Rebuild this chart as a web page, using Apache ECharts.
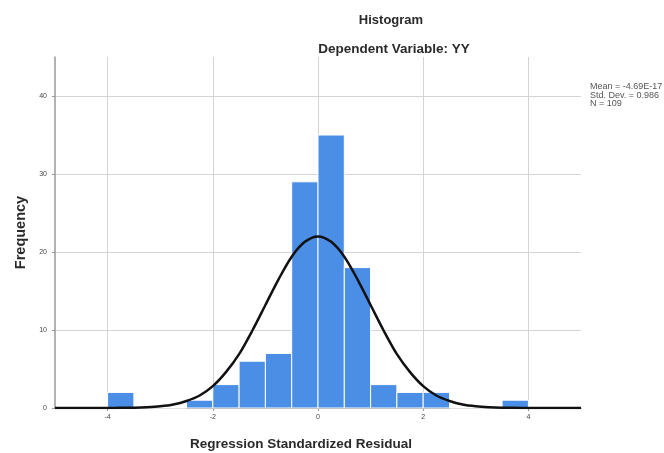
<!DOCTYPE html>
<html style="height: 100%">
<head>
    <meta charset="utf-8">
</head>
<body style="height: 100%; margin: 0; background: #fff">
    <div id="container" style="width: 664px; height: 453px"></div>
    <script src="https://cdn.jsdelivr.net/npm/echarts@6/dist/echarts.min.js"></script>
    <script>
        // histogram bins (width 0.5), left edges and counts
        var binStarts = [-4, -3.5, -3, -2.5, -2, -1.5, -1, -0.5, 0, 0.5, 1, 1.5, 2, 2.5, 3, 3.5];
        var binCounts = [2, 0, 0, 1, 3, 6, 7, 29, 35, 18, 3, 2, 2, 0, 0, 1];
        var binWidth = 0.5;

        // normal curve
        var curveX = [-5, -4.5, -4, -3.75, -3.5, -3.25, -3, -2.75, -2.5, -2.25, -2, -1.75, -1.5, -1.25, -1, -0.75, -0.5, -0.25,
            0, 0.25, 0.5, 0.75, 1, 1.25, 1.5, 1.75, 2, 2.25, 2.5, 2.75, 3, 3.25, 3.5, 3.75, 4, 4.5, 5];
        var curveY = [0, 0, 0.01, 0.02, 0.04, 0.1, 0.22, 0.45, 0.9, 1.6, 2.8, 4.6, 6.9, 9.9, 13.2, 16.5, 19.4, 21.3,
            22, 21.3, 19.4, 16.5, 13.2, 9.9, 6.9, 4.6, 2.8, 1.6, 0.9, 0.45, 0.22, 0.1, 0.04, 0.02, 0.01, 0, 0];

        var xTicks = [-4, -2, 0, 2, 4];
        var yTicks = [0, 10, 20, 30, 40];
        var statsText = ['Mean = -4.69E-17', 'Std. Dev. = 0.986', 'N = 109'];

        var bars = binStarts.map(function (s, i) { return [s, s + binWidth, binCounts[i]]; });
        var curve = curveX.map(function (x, i) { return [x, curveY[i]]; });

        var myChart = echarts.init(document.getElementById('container'));
        var font = 'Liberation Sans, Arial, sans-serif';

        var option = {
            backgroundColor: '#fff',
            animation: false,
            textStyle: { fontFamily: font },
            title: [{
                text: 'Histogram',
                left: 386, top: 9, textAlign: 'center',
                textStyle: { fontSize: 13, fontWeight: 'bold', color: '#2a2a2a', fontFamily: font }
            }, {
                text: 'Dependent Variable: YY',
                left: 389, top: 37, textAlign: 'center',
                textStyle: { fontSize: 13.5, fontWeight: 'bold', color: '#2a2a2a', fontFamily: font }
            }],
            grid: { left: 55, right: 83, top: 57, bottom: 45, outerBoundsMode: 'none' },
            xAxis: {
                type: 'value', min: -5, max: 5,
                name: 'Regression Standardized Residual',
                nameLocation: 'middle', nameGap: 29,
                nameTextStyle: { fontSize: 13.5, fontWeight: 'bold', color: '#2a2a2a', padding: [0, 34, 0, 0] },
                axisLine: { show: true, onZero: false, lineStyle: { color: '#888', width: 1 } },
                axisTick: { show: true, length: 3, customValues: xTicks, lineStyle: { color: '#999' } },
                axisLabel: { customValues: xTicks, fontSize: 7, color: '#444', margin: 6 },
                splitLine: { show: true, lineStyle: { color: '#d4d4d4', width: 1 } }
            },
            yAxis: {
                type: 'value', min: 0, max: 45,
                name: 'Frequency',
                nameLocation: 'middle', nameGap: 27,
                nameTextStyle: { fontSize: 14.5, fontWeight: 'bold', color: '#2a2a2a' },
                axisLine: { show: true, onZero: false, lineStyle: { color: '#999', width: 1.5 } },
                axisTick: { show: true, length: 3, customValues: yTicks, lineStyle: { color: '#999' } },
                axisLabel: { customValues: yTicks, fontSize: 7, color: '#444', margin: 8 },
                splitLine: { show: true, lineStyle: { color: '#d4d4d4', width: 1 } }
            },
            graphic: [{
                type: 'text', left: 590, top: 82,
                style: { text: statsText.join('\n'), font: '9px ' + font, fill: '#555', lineHeight: 8.7 }
            }],
            series: [{
                type: 'custom',
                data: bars,
                encode: { x: [0, 1], y: 2 },
                renderItem: function (params, api) {
                    var p0 = api.coord([api.value(0), 0]);
                    var p1 = api.coord([api.value(1), api.value(2)]);
                    return {
                        type: 'rect',
                        shape: { x: p0[0], y: p1[1], width: p1[0] - p0[0], height: p0[1] - p1[1] },
                        style: { fill: '#4b8ee6', stroke: '#fff', lineWidth: 1 }
                    };
                },
                z: 2
            }, {
                type: 'line',
                data: curve,
                smooth: 0.3,
                showSymbol: false,
                lineStyle: { color: '#111', width: 2.5 },
                z: 5
            }]
        };
        myChart.setOption(option);
    </script>
</body>
</html>
